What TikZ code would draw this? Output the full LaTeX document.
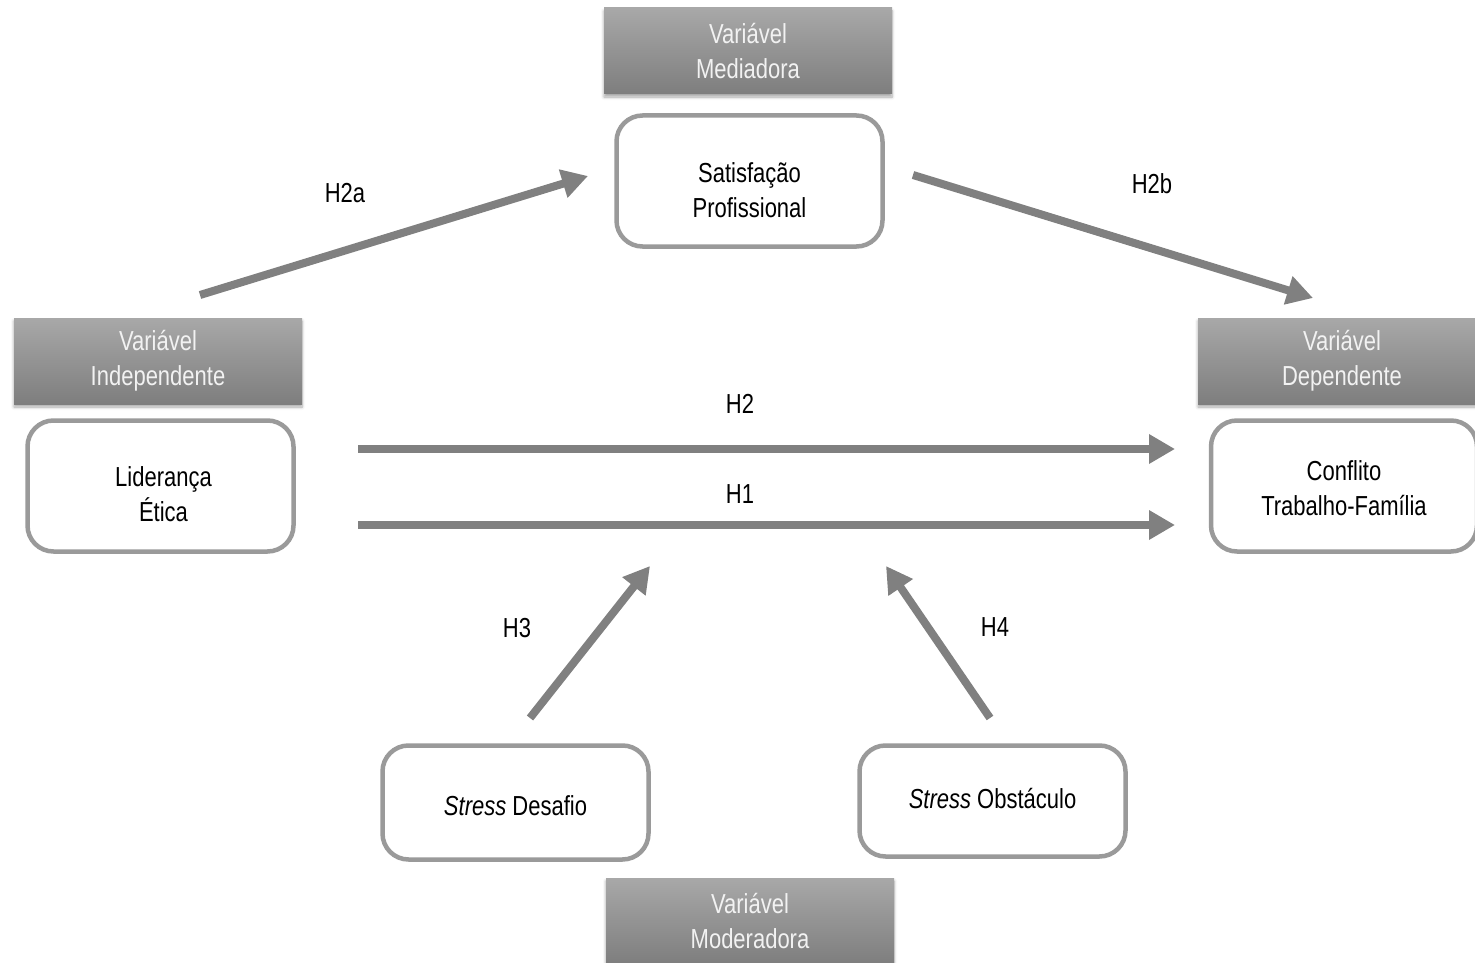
\documentclass[tikz,border=0pt]{standalone}
\usepackage{fontspec}
\setmainfont{Liberation Sans}[FakeStretch=0.8]
\usetikzlibrary{arrows.meta,shadows.blur}
\definecolor{hdtop}{HTML}{A8A8A8}
\definecolor{hdbot}{HTML}{7E7E7E}
\definecolor{bordergray}{HTML}{9A9A9A}
\definecolor{arrowgray}{HTML}{808080}
\definecolor{hdtext}{HTML}{F2F2F2}
\tikzset{
 header/.style={minimum width=288pt, minimum height=86pt, inner sep=0pt, top color=hdtop, bottom color=hdbot, draw=none, text=hdtext, align=center, font=\fontsize{27.5}{35}\selectfont, blur shadow={shadow xshift=0pt, shadow yshift=-3pt, shadow opacity=35, shadow blur steps=6, shadow blur radius=3pt}},
 varbox/.style={draw=bordergray, line width=4.5pt, rounded corners=26pt, fill=white, minimum width=266pt, minimum height=131pt, inner sep=0pt},
 boxtext/.style={align=center, inner sep=0pt, font=\fontsize{27.5}{35}\selectfont},
 hyp/.style={draw=arrowgray, line width=8pt, -{Triangle[length=26pt,width=28pt]}},
 hlabel/.style={font=\fontsize{27.5}{32}\selectfont, inner sep=0pt}
}
\begin{document}
\begin{tikzpicture}[x=1pt,y=-1pt]
\useasboundingbox (0,0) rectangle (1475,963);
% headers
\node[header] (med) at (748,51) {Variável\\Mediadora};
\node[header] (ind) at (158,361) {Variável\\Independente};
\node[header] (dep) at (1342,361) {Variável\\Dependente};
\node[header] (mod) at (750,921) {Variável\\Moderadora};
% variable boxes
\node[varbox] (sat) at (749.5,181) {};
\node[varbox] (lid) at (160.5,486) {};
\node[varbox] (con) at (1344,486) {};
\node[varbox, minimum height=114pt] (sd) at (515.5,802.5) {};
\node[varbox, minimum height=111pt] (so) at (992.5,801) {};
\node[boxtext] (sattxt) at ([yshift=-9pt]sat.center) {Satisfação\\Profissional};
\node[boxtext] (lidtxt) at ([yshift=-8pt,xshift=3pt]lid.center) {Liderança\\Ética};
\node[boxtext] (contxt) at ([yshift=-2pt]con.center) {Conflito\\Trabalho-Família};
\node[boxtext] (sdtxt) at ([yshift=-3pt]sd.center) {\textit{Stress} Desafio};
\node[boxtext] (sotxt) at ([yshift=2pt]so.center) {\textit{Stress} Obstáculo};
% arrow end points
\coordinate (a2as) at (200,295);
\coordinate (a2ae) at (588,176);
\coordinate (a2bs) at (913,175);
\coordinate (a2be) at (1313,298);
\coordinate (a2s) at (358,449);
\coordinate (a2e) at (1175,449);
\coordinate (a1s) at (358,525);
\coordinate (a1e) at (1175,525);
\coordinate (a3s) at (530,718);
\coordinate (a3e) at (650,566);
\coordinate (a4s) at (990,718);
\coordinate (a4e) at (886,566);
\draw[hyp] (a2as) -- (a2ae);
\draw[hyp] (a2bs) -- (a2be);
\draw[hyp] (a2s) -- (a2e);
\draw[hyp] (a1s) -- (a1e);
\draw[hyp] (a3s) -- (a3e);
\draw[hyp] (a4s) -- (a4e);
% labels
\node[hlabel] (l2a) at (345,193) {H2a};
\node[hlabel] (l2b) at (1152,184) {H2b};
\node[hlabel] (l2) at (740,404) {H2};
\node[hlabel] (l1) at (740,494) {H1};
\node[hlabel] (l3) at (517,628) {H3};
\node[hlabel] (l4) at (995,627) {H4};
\end{tikzpicture}
\end{document}
